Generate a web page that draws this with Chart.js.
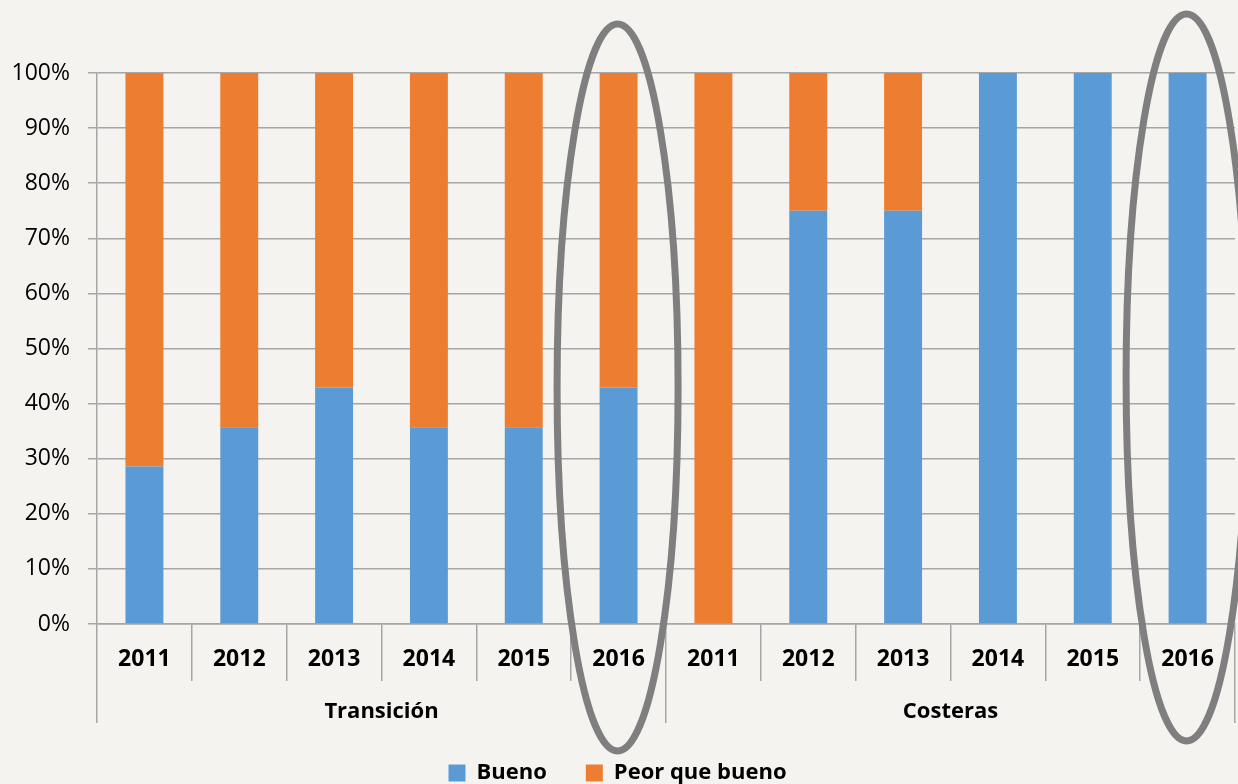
<!DOCTYPE html>
<html>
<head>
<meta charset="utf-8">
<script src="https://cdn.jsdelivr.net/npm/chart.js@4"></script>
<style>
  html, body { margin: 0; padding: 0; background: #f4f3ef; }
  #wrap { width: 1238px; height: 784px; }
</style>
</head>
<body>
<div id="wrap"><canvas id="estadoChart" width="1238" height="784"></canvas></div>
<script>
// Estado de masas de agua: Transición vs Costeras, 2011-2016
const years = ['2011', '2012', '2013', '2014', '2015', '2016',
               '2011', '2012', '2013', '2014', '2015', '2016'];
const groups = ['Transición', 'Costeras'];
const bueno = [28.6, 35.7, 42.9, 35.7, 35.7, 42.9, 0, 75, 75, 100, 100, 100];
const peorQueBueno = [71.4, 64.3, 57.1, 64.3, 64.3, 57.1, 100, 25, 25, 0, 0, 0];
const yTicks = [0, 10, 20, 30, 40, 50, 60, 70, 80, 90, 100];
const highlighted = [5, 11]; // columnas 2016 rodeadas

const GRID = '#a6a6a6';
const FONT = '"Open Sans", "DejaVu Sans", sans-serif';

// elipses grises alrededor de las columnas 2016
const ellipsePlugin = {
  id: 'ellipses',
  afterDraw(chart) {
    const { ctx, chartArea, scales: { x } } = chart;
    const rise = [236.5, 246.5]; // centro sobre la base del gráfico
    ctx.save();
    ctx.strokeStyle = '#7f7f7f';
    ctx.lineWidth = 7;
    highlighted.forEach((idx, i) => {
      const cx = x.getPixelForValue(idx) - 1;
      const cy = chartArea.bottom - rise[i];
      ctx.beginPath();
      ctx.ellipse(cx, cy, 60.5, 363.5, 0, 0, Math.PI * 2);
      ctx.stroke();
    });
    ctx.restore();
  },
};

new Chart(document.getElementById('estadoChart'), {
  type: 'bar',
  data: {
    labels: years,
    datasets: [
      {
        label: 'Bueno',
        data: bueno,
        backgroundColor: '#5b9bd5',
      },
      {
        label: 'Peor que bueno',
        data: peorQueBueno,
        backgroundColor: '#ed7d31',
      },
    ],
  },
  options: {
    responsive: false,
    animation: false,
    barPercentage: 1,
    categoryPercentage: 0.4,
    layout: { padding: { top: 73, right: 3, bottom: -10, left: 0 } },
    plugins: {
      legend: {
        position: 'bottom',
        labels: {
          boxWidth: 17,
          boxHeight: 17,
          padding: 39,
          color: '#000',
          font: { family: FONT, size: 22, weight: 'bold' },
        },
      },
      tooltip: { enabled: false },
    },
    scales: {
      x: {
        stacked: true,
        offset: true,
        grid: { drawOnChartArea: false, offset: true, tickLength: 57, color: GRID, lineWidth: 1.5 },
        border: { color: GRID, width: 1.5 },
        ticks: {
          padding: -35,
          color: '#000',
          font: { family: FONT, size: 23, weight: 'bold' },
          maxRotation: 0,
          autoSkip: false,
        },
        afterFit: (s) => { s.height = 57; },
      },
      x2: {
        type: 'category',
        labels: groups,
        position: 'bottom',
        offset: true,
        grid: { drawOnChartArea: false, offset: true, tickLength: 42, color: GRID, lineWidth: 1.5 },
        border: { display: false },
        ticks: {
          padding: -24,
          color: '#000',
          font: { family: FONT, size: 22, weight: 'bold' },
          maxRotation: 0,
        },
        afterFit: (s) => { s.height = 42; },
      },
      y: {
        stacked: true,
        min: 0,
        max: 100,
        afterBuildTicks: (s) => { s.ticks = yTicks.map((v) => ({ value: v })); },
        grid: { color: GRID, lineWidth: 1.5, tickLength: 9 },
        border: { color: GRID, width: 1.5 },
        ticks: {
          padding: 18,
          color: '#000',
          font: { family: FONT, size: 23 },
          callback: (v) => v + '%',
        },
        afterFit: (s) => { s.width = 97; },
      },
    },
  },
  plugins: [ellipsePlugin],
});
</script>
</body>
</html>
